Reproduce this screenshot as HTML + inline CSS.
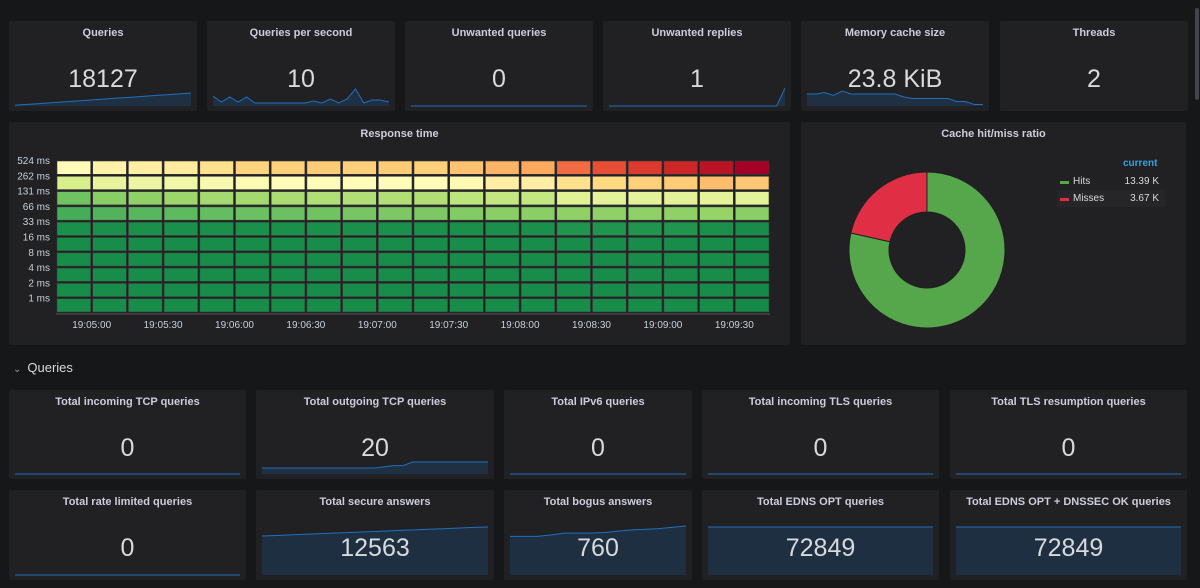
<!DOCTYPE html>
<html><head><meta charset="utf-8">
<style>
html,body{margin:0;padding:0;background:#161719;width:1200px;height:588px;overflow:hidden;font-family:"Liberation Sans",sans-serif;color:#d8d9da}
.panel{position:absolute;background:#212124;border-radius:2px}
.ptitle{position:absolute;left:0;right:0;text-align:center;font-size:11px;font-weight:bold;color:#ccccdc;top:6px}
.pval{position:absolute;left:0;right:0;text-align:center;font-size:25px;color:#d8d9da;z-index:2}
svg{position:absolute;left:0;top:0}
</style></head><body>
<div id="dash"></div>
<div style="position:absolute;left:1195px;top:8px;width:4px;height:92px;background:#44454a;border-radius:2px"></div>
<div style="position:absolute;left:13px;top:360px;font-size:13px;color:#d8d9da"><span style="font-size:10px;color:#999;margin-right:6px">&#8964;</span>Queries</div>

<div class="panel" style="left:9px;top:122px;width:781px;height:223px">
  <div class="ptitle" style="top:6px">Response time</div>
</div>
<svg id="heat" width="1200" height="588" style="pointer-events:none"></svg>

<div class="panel" style="left:801px;top:122px;width:385px;height:223px">
  <div class="ptitle">Cache hit/miss ratio</div>
  <div style="position:absolute;left:322px;top:36px;font-size:10px;font-weight:bold;color:#33a2e5">current</div>
  <div style="position:absolute;left:256px;top:51px;width:108px;height:17px;font-size:10px;line-height:17px">
    <span style="position:absolute;left:3px;top:8px;width:9px;height:3px;background:#56a64b"></span>
    <span style="position:absolute;left:16px">Hits</span><span style="position:absolute;right:6px">13.39 K</span></div>
  <div style="position:absolute;left:256px;top:68px;width:108px;height:17px;font-size:10px;line-height:17px;background:#262629">
    <span style="position:absolute;left:3px;top:8px;width:9px;height:3px;background:#e02f44"></span>
    <span style="position:absolute;left:16px">Misses</span><span style="position:absolute;right:6px">3.67 K</span></div>
</div>
<svg id="pie" width="1200" height="588" style="pointer-events:none"></svg>

<script>
// ---------- Heatmap data ----------
const heatYLabels = ["524 ms","262 ms","131 ms","66 ms","33 ms","16 ms","8 ms","4 ms","2 ms","1 ms"];
const heatXTicks = ["19:05:00","19:05:30","19:06:00","19:06:30","19:07:00","19:07:30","19:08:00","19:08:30","19:09:00","19:09:30"];
const heatColumns = 20;
const row524 = [0.50,0.53,0.54,0.55,0.58,0.61,0.62,0.63,0.62,0.63,0.62,0.65,0.68,0.70,0.79,0.84,0.88,0.92,0.96,1.00];
const row262 = [0.40,0.44,0.45,0.46,0.48,0.49,0.50,0.50,0.50,0.50,0.50,0.51,0.54,0.54,0.58,0.60,0.62,0.63,0.66,0.64];
const row131 = [0.24,0.28,0.29,0.31,0.32,0.32,0.33,0.34,0.34,0.34,0.34,0.36,0.37,0.37,0.42,0.43,0.43,0.43,0.43,0.43];
const row66  = [0.17,0.19,0.20,0.21,0.22,0.23,0.23,0.24,0.25,0.26,0.26,0.27,0.28,0.28,0.29,0.29,0.29,0.29,0.30,0.28];
const row33  = [0.10,0.10,0.10,0.10,0.10,0.10,0.10,0.10,0.10,0.10,0.10,0.10,0.10,0.10,0.11,0.11,0.11,0.11,0.10,0.09];
const rowLow = [0.09,0.09,0.09,0.09,0.09,0.09,0.09,0.09,0.09,0.09,0.09,0.09,0.09,0.09,0.09,0.09,0.09,0.09,0.09,0.08];
const heatRows = [row524,row262,row131,row66,row33,rowLow,rowLow,rowLow,rowLow,rowLow];

// ---------- Donut data ----------
const pieLabels = ["Hits","Misses"];
const pieValues = [13390,3670];

// ---------- Stat panels data ----------
const sparkQueries = [1,2,3,4,5,6,7,8,9,10,11,12,13,14,15,16,17,18];
const sparkQps = [10,4,9,4,9,3,3,3,3,3,3,3,5,3,7,3,7,17,3,6,6,4];
const sparkZero = [0,0,0,0,0,0,0,0,0,0];
const sparkReplies = [0,0,0,0,0,0,0,0,0,0,0,0,0,0,0,0,0,0,0,0,0,0.9];
const sparkMemory = [8,8,9,7,10,8,8,8,8,8,8,6,5,5,5,5,5,3,3,1,1];
const sparkOutTcp = [5,5,5,5,5,5,5,5,5,5,5,5,5,6,7,7,10,10,10,10,10,10,10,10,10];
const sparkSecure = [10200,10350,10500,10650,10800,10950,11100,11250,11400,11550,11700,11850,12000,12150,12300,12450,12563];
const sparkBogus = [600,600,600,620,650,650,650,660,680,700,710,720,740,760];
const sparkEdns = [72849,72849,72849,72849,72849];

const NS="http://www.w3.org/2000/svg";
function mk(tag,attrs,parent){const e=document.createElementNS(NS,tag);for(const k in attrs)e.setAttribute(k,attrs[k]);parent.appendChild(e);return e;}

const stops=[[0,[0,104,55]],[0.1,[26,145,75]],[0.2,[88,183,94]],[0.3,[150,212,104]],[0.4,[217,239,139]],[0.5,[255,252,185]],[0.6,[254,218,130]],[0.7,[253,170,95]],[0.8,[240,100,64]],[0.9,[215,48,39]],[1,[165,0,38]]];
function color(v){for(let i=1;i<stops.length;i++){if(v<=stops[i][0]){const a=stops[i-1],b=stops[i],t=(v-a[0])/(b[0]-a[0]);return 'rgb('+a[1].map((c,j)=>Math.round(c+(b[1][j]-c)*t)).join(',')+')';}}return 'rgb(165,0,38)';}

const hx0=56,hx1=770,hy0=160,hy1=313;
const colW=(hx1-hx0)/heatColumns, rowH=(hy1-hy0)/heatRows.length;
function xCol(i){return hx0+i*colW;}
function yRow(r){return hy0+r*rowH;}
const heat=document.getElementById('heat');
heatRows.forEach((row,r)=>{row.forEach((v,c)=>{
  const rect=mk('rect',{x:xCol(c)+1,y:yRow(r)+1,width:colW-2,height:rowH-2,fill:color(v),stroke:'#3a3a3a','stroke-width':0.6},heat);
  
  
});});
mk('line',{x1:hx0,x2:hx1,y1:hy1+1,y2:hy1+1,stroke:'#555','stroke-width':1},heat);
heatYLabels.forEach((l,r)=>{
  const t=mk('text',{x:50,y:yRow(r)+4,'text-anchor':'end','font-size':10,fill:'#c7d0d9','font-family':'Liberation Sans'},heat);t.textContent=l;
  
  
});
heatXTicks.forEach((l,i)=>{
  const t=mk('text',{x:xCol(1+2*i),y:328,'text-anchor':'middle','font-size':10,fill:'#c7d0d9','font-family':'Liberation Sans'},heat);t.textContent=l;
  
  
});

const pie=document.getElementById('pie');
const cx=927,cy=250,R=78,r0=38;
const pieColors=["#56a64b","#e02f44"];
const total=pieValues.reduce((a,b)=>a+b,0);
let ang=0;
pieValues.forEach((v,i)=>{
  const a0=ang,a1=ang+v/total*2*Math.PI;ang=a1;
  const p=(a,rr)=>[cx+rr*Math.sin(a),cy-rr*Math.cos(a)];
  const large=(a1-a0)>Math.PI?1:0;
  const [x0,y0]=p(a0,R),[x1,y1]=p(a1,R),[x2,y2]=p(a1,r0),[x3,y3]=p(a0,r0);
  const path=mk('path',{d:`M${x0},${y0}A${R},${R} 0 ${large} 1 ${x1},${y1}L${x2},${y2}A${r0},${r0} 0 ${large} 0 ${x3},${y3}Z`,fill:pieColors[i],stroke:'#212124','stroke-width':1},pie);
  
  
});

const dash=document.getElementById('dash');
function stat(name,x,y,w,h,title,value,data,H,full){
  const p=document.createElement('div');p.className='panel';
  p.style.cssText=`left:${x}px;top:${y}px;width:${w}px;height:${h}px`;
  
  
  const t=document.createElement('div');t.className='ptitle';t.textContent=title;
  
  
  p.appendChild(t);
  const v=document.createElement('div');v.className='pval';v.textContent=value;v.style.top=(h/2+2)+'px';v.style.lineHeight='26px';v.style.marginTop='-2px';
  
  
  p.appendChild(v);
  if(data){
    const s=document.createElementNS(NS,'svg');s.setAttribute('width',w);s.setAttribute('height',h);
    
    
    const x0=6,x1=w-6,yb=h-5;
    const mx=Math.max(...data)||1;
    const sx=i=>x0+(x1-x0)*i/(data.length-1);
    const sy=d=>yb-(d/mx)*H;
    let d='M'+data.map((d,i)=>sx(i)+','+sy(d)).join('L');
    mk('path',{d:d+`L${x1},${yb}L${x0},${yb}Z`,fill:full?'#1f2f42':'rgba(31,96,160,0.25)'},s);
    mk('path',{d:d,fill:'none',stroke:'#1f6fbd','stroke-width':1},s);
    p.appendChild(s);
  }
  dash.appendChild(p);
}
stat('queries-panel',9,21,188,90,'Queries','18127',sparkQueries,13,false);
stat('qps-panel',207,21,188,90,'Queries per second','10',sparkQps,17,false);
stat('unwanted-queries-panel',405,21,188,90,'Unwanted queries','0',sparkZero,10,false);
stat('unwanted-replies-panel',603,21,188,90,'Unwanted replies','1',sparkReplies,18,false);
stat('memory-cache-panel',801,21,188,90,'Memory cache size','23.8 KiB',sparkMemory,15,false);
stat('threads-panel',1000,21,188,90,'Threads','2',null,0,false);
stat('incoming-tcp-panel',9,390,237,89,'Total incoming TCP queries','0',sparkZero,10,false);
stat('outgoing-tcp-panel',256,390,238,89,'Total outgoing TCP queries','20',sparkOutTcp,12,false);
stat('ipv6-panel',504,390,188,89,'Total IPv6 queries','0',sparkZero,10,false);
stat('incoming-tls-panel',702,390,237,89,'Total incoming TLS queries','0',sparkZero,10,false);
stat('tls-resumption-panel',950,390,237,89,'Total TLS resumption queries','0',sparkZero,10,false);
stat('rate-limited-panel',9,490,237,90,'Total rate limited queries','0',sparkZero,10,false);
stat('secure-answers-panel',256,490,238,90,'Total secure answers','12563',sparkSecure,48,true);
stat('bogus-answers-panel',504,490,188,90,'Total bogus answers','760',sparkBogus,49,true);
stat('edns-opt-panel',702,490,237,90,'Total EDNS OPT queries','72849',sparkEdns,48,true);
stat('edns-dnssec-panel',950,490,237,90,'Total EDNS OPT + DNSSEC OK queries','72849',sparkEdns,48,true);
</script>
</body></html>
